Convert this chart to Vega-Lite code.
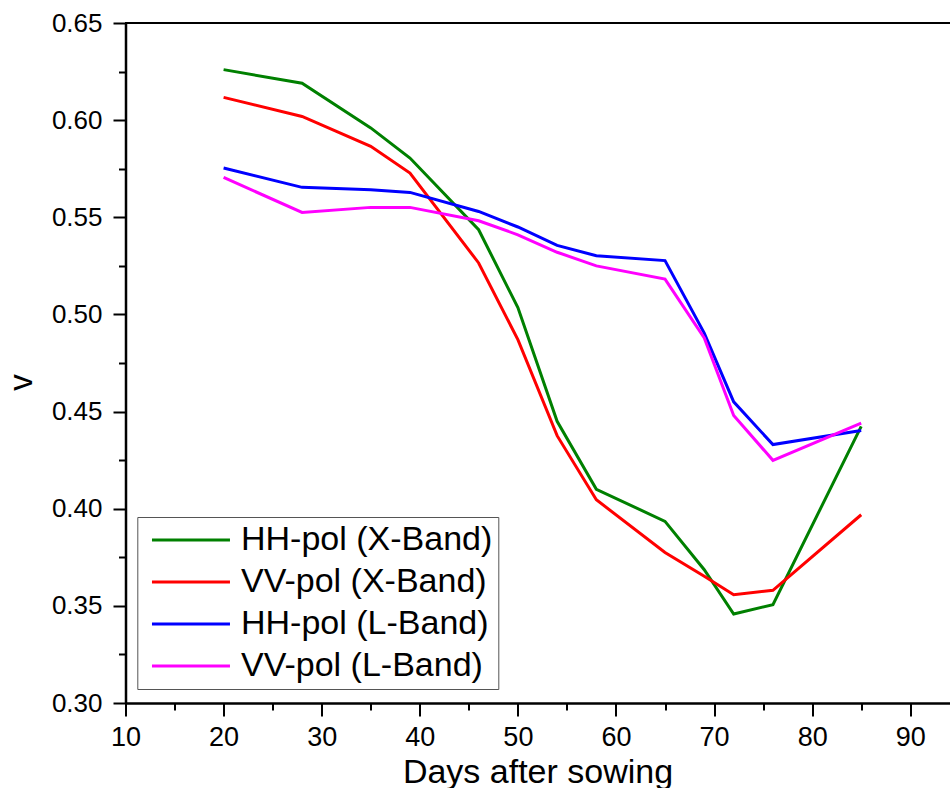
{
  "$schema": "https://vega.github.io/schema/vega-lite/v6.json",
  "autosize": {"type": "none"},
  "padding": {"left": 125.5, "top": 23, "right": 0, "bottom": 85},
  "width": 824,
  "height": 680,
  "background": "white",
  "config": {
    "view": {"stroke": null},
    "font": "Liberation Sans",
    "axis": {
      "grid": false,
      "domainColor": "black",
      "domainWidth": 2.5,
      "tickColor": "black",
      "tickWidth": 2,
      "labelColor": "black",
      "titleColor": "black",
      "labelFont": "Liberation Sans",
      "titleFont": "Liberation Sans",
      "titleFontWeight": "normal",
      "labelFlush": false,
      "labelOverlap": false
    }
  },
  "data": {
    "values": [
      {"day": 20, "v": 0.626, "series": "HH-pol (X-Band)"},
      {"day": 28, "v": 0.619, "series": "HH-pol (X-Band)"},
      {"day": 35, "v": 0.596, "series": "HH-pol (X-Band)"},
      {"day": 39, "v": 0.5805, "series": "HH-pol (X-Band)"},
      {"day": 46, "v": 0.5436, "series": "HH-pol (X-Band)"},
      {"day": 50, "v": 0.5035, "series": "HH-pol (X-Band)"},
      {"day": 54, "v": 0.445, "series": "HH-pol (X-Band)"},
      {"day": 58, "v": 0.41, "series": "HH-pol (X-Band)"},
      {"day": 65, "v": 0.3935, "series": "HH-pol (X-Band)"},
      {"day": 69, "v": 0.3686, "series": "HH-pol (X-Band)"},
      {"day": 72, "v": 0.3458, "series": "HH-pol (X-Band)"},
      {"day": 76, "v": 0.3506, "series": "HH-pol (X-Band)"},
      {"day": 85, "v": 0.4424, "series": "HH-pol (X-Band)"},
      {"day": 20, "v": 0.6117, "series": "VV-pol (X-Band)"},
      {"day": 28, "v": 0.6019, "series": "VV-pol (X-Band)"},
      {"day": 35, "v": 0.5865, "series": "VV-pol (X-Band)"},
      {"day": 39, "v": 0.5728, "series": "VV-pol (X-Band)"},
      {"day": 46, "v": 0.5265, "series": "VV-pol (X-Band)"},
      {"day": 50, "v": 0.487, "series": "VV-pol (X-Band)"},
      {"day": 54, "v": 0.4376, "series": "VV-pol (X-Band)"},
      {"day": 58, "v": 0.4046, "series": "VV-pol (X-Band)"},
      {"day": 65, "v": 0.3775, "series": "VV-pol (X-Band)"},
      {"day": 69, "v": 0.3652, "series": "VV-pol (X-Band)"},
      {"day": 72, "v": 0.3557, "series": "VV-pol (X-Band)"},
      {"day": 76, "v": 0.358, "series": "VV-pol (X-Band)"},
      {"day": 85, "v": 0.3969, "series": "VV-pol (X-Band)"},
      {"day": 20, "v": 0.5754, "series": "HH-pol (L-Band)"},
      {"day": 28, "v": 0.5654, "series": "HH-pol (L-Band)"},
      {"day": 35, "v": 0.5642, "series": "HH-pol (L-Band)"},
      {"day": 39, "v": 0.5628, "series": "HH-pol (L-Band)"},
      {"day": 46, "v": 0.553, "series": "HH-pol (L-Band)"},
      {"day": 50, "v": 0.545, "series": "HH-pol (L-Band)"},
      {"day": 54, "v": 0.5355, "series": "HH-pol (L-Band)"},
      {"day": 58, "v": 0.5302, "series": "HH-pol (L-Band)"},
      {"day": 65, "v": 0.5277, "series": "HH-pol (L-Band)"},
      {"day": 69, "v": 0.4904, "series": "HH-pol (L-Band)"},
      {"day": 72, "v": 0.455, "series": "HH-pol (L-Band)"},
      {"day": 76, "v": 0.433, "series": "HH-pol (L-Band)"},
      {"day": 85, "v": 0.4403, "series": "HH-pol (L-Band)"},
      {"day": 20, "v": 0.5705, "series": "VV-pol (L-Band)"},
      {"day": 28, "v": 0.5525, "series": "VV-pol (L-Band)"},
      {"day": 35, "v": 0.5551, "series": "VV-pol (L-Band)"},
      {"day": 39, "v": 0.5551, "series": "VV-pol (L-Band)"},
      {"day": 46, "v": 0.5482, "series": "VV-pol (L-Band)"},
      {"day": 50, "v": 0.541, "series": "VV-pol (L-Band)"},
      {"day": 54, "v": 0.532, "series": "VV-pol (L-Band)"},
      {"day": 58, "v": 0.525, "series": "VV-pol (L-Band)"},
      {"day": 65, "v": 0.5182, "series": "VV-pol (L-Band)"},
      {"day": 69, "v": 0.4879, "series": "VV-pol (L-Band)"},
      {"day": 72, "v": 0.448, "series": "VV-pol (L-Band)"},
      {"day": 76, "v": 0.4249, "series": "VV-pol (L-Band)"},
      {"day": 85, "v": 0.4441, "series": "VV-pol (L-Band)"}
    ]
  },
  "layer": [
    {
      "mark": {"type": "line", "strokeWidth": 3, "clip": true},
      "encoding": {
        "x": {
          "field": "day",
          "type": "quantitative",
          "scale": {"domain": [10, 94], "nice": false, "zero": false},
          "axis": {
            "title": "Days after sowing",
            "titleFontSize": 34,
            "titleBaseline": "alphabetic",
            "titleY": 79,
            "values": [10, 15, 20, 25, 30, 35, 40, 45, 50, 55, 60, 65, 70, 75, 80, 85, 90],
            "labelExpr": "datum.value % 10 === 0 ? format(datum.value, 'd') : ''",
            "tickSize": {"condition": {"test": "datum.value % 10 === 0", "value": 13}, "value": 7},
            "labelFontSize": 27,
            "labelPadding": 8
          }
        },
        "y": {
          "field": "v",
          "type": "quantitative",
          "scale": {"domain": [0.3, 0.65], "nice": false, "zero": false},
          "axis": {
            "title": "v",
            "titleFontSize": 33,
            "titleAngle": -90,
            "titleBaseline": "middle",
            "titleX": -104,
            "titleY": 359,
            "values": [0.3, 0.325, 0.35, 0.375, 0.4, 0.425, 0.45, 0.475, 0.5, 0.525, 0.55, 0.575, 0.6, 0.625, 0.65],
            "labelExpr": "round(datum.value * 1000) % 50 === 0 ? format(datum.value, '.2f') : ''",
            "tickSize": {"condition": {"test": "round(datum.value * 1000) % 50 === 0", "value": 12.5}, "value": 7},
            "labelFontSize": 26,
            "labelPadding": 11
          }
        },
        "color": {
          "field": "series",
          "type": "nominal",
          "scale": {
            "domain": ["HH-pol (X-Band)", "VV-pol (X-Band)", "HH-pol (L-Band)", "VV-pol (L-Band)"],
            "range": ["#008000", "#ff0000", "#0000ff", "#ff00ff"]
          },
          "legend": {
            "title": null,
            "orient": "none",
            "legendX": 11.8,
            "legendY": 494,
            "padding": 6,
            "fillColor": "white",
            "strokeColor": "#555555",
            "symbolType": "M-0.64,0H5.36",
            "symbolSize": 676,
            "symbolStrokeWidth": 3,
            "labelFontSize": 34,
            "labelFont": "Liberation Sans",
            "labelColor": "black",
            "labelLimit": 500,
            "labelOffset": 63.7,
            "rowPadding": 8
          }
        }
      }
    },
    {
      "mark": {"type": "rule", "color": "black", "strokeWidth": 2},
      "encoding": {"y": {"datum": 0.65}}
    }
  ]
}
